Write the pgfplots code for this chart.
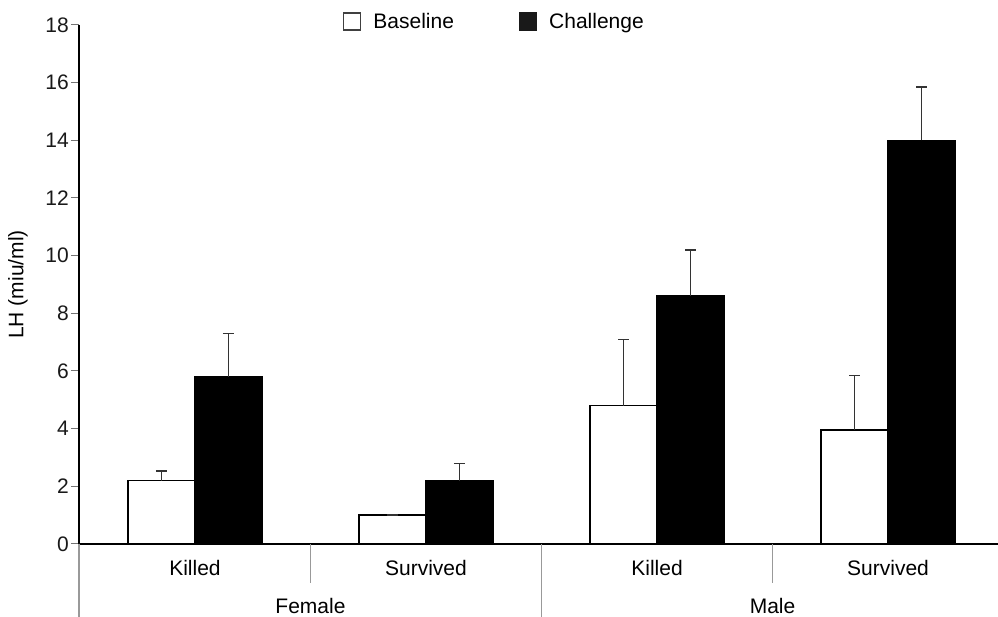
\documentclass[border=0pt]{standalone}
\usepackage{fontspec}
\setmainfont{Liberation Sans}
\usepackage{pgfplots}
\pgfplotsset{compat=1.18}
\begin{document}
\begin{tikzpicture}[x=1pt,y=1pt]
\useasboundingbox (0,0) rectangle (998,617);
\begin{axis}[
  at={(79pt,73pt)}, anchor=south west,
  scale only axis, width=919pt, height=519pt,
  xmin=-0.502, xmax=3.476, ymin=0, ymax=18,
  ytick={0,2,...,18},
  xtick=\empty,
  axis x line*=bottom, axis y line*=left,
  axis line style={line width=2pt, black, -},
  y tick style={black!55, line width=1pt},
  tick align=outside, major tick length=8pt,
  /pgf/number format/assume math mode=true,
  yticklabel style={font=\fontsize{21}{25}\selectfont, inner sep=2pt, text=black!90},
  ylabel={LH (miu/ml)},
  every axis y label/.style={at={(axis description cs:0,0.5)}, xshift=-61pt, rotate=90, anchor=center, font=\fontsize{21}{25}\selectfont},
  clip=false,
  legend columns=2,
  legend style={at={(rel axis cs:0.2873,1.0067)}, anchor=west, draw=none, fill=none, inner sep=0pt, row sep=0pt,
    nodes={inner sep=0pt, font=\fontsize{21}{25}\selectfont},
    /tikz/every odd column/.append style={column sep=12pt},
    /tikz/every even column/.append style={column sep=65pt}},
]
\addplot[ybar, bar width=67pt, bar shift=0pt, fill=white, draw=black, line width=1.5pt,
  legend image code/.code={\draw[fill=white, draw=black!75, line width=1.2pt] (0pt,-8.5pt) rectangle (17pt,8.5pt);},
  error bars/.cd, y dir=plus, y explicit,
  error bar style={line width=1.5pt, color=black!80},
  error mark options={rotate=90, mark size=5.5pt, line width=1.5pt, color=black!80}]
  coordinates {(-0.145,2.2) +- (0,0.33) (0.855,1.0) +- (0,0) (1.855,4.8) +- (0,2.3) (2.855,3.95) +- (0,1.9)};
\addlegendentry{Baseline}
\addplot[ybar, bar width=67pt, bar shift=0pt, fill=black, draw=black, line width=1.5pt,
  legend image code/.code={\draw[fill=black!90, draw=black!90, line width=1.2pt] (0pt,-8.5pt) rectangle (17pt,8.5pt);},
  error bars/.cd, y dir=plus, y explicit,
  error bar style={line width=1.5pt, color=black!80},
  error mark options={rotate=90, mark size=5.5pt, line width=1.5pt, color=black!80}]
  coordinates {(0.145,5.8) +- (0,1.5) (1.145,2.2) +- (0,0.6) (2.145,8.6) +- (0,1.6) (3.145,14.0) +- (0,1.85)};
\addlegendentry{Challenge}
\draw[black!40, line width=1.5pt] (axis cs:-0.502,0) -- ++(0pt,-73pt);
\draw[black!40, line width=1.5pt] (axis cs:1.5,0) -- ++(0pt,-73pt);
\draw[black!40, line width=1.5pt] (axis cs:0.5,0) -- ++(0pt,-39pt);
\draw[black!40, line width=1.5pt] (axis cs:2.5,0) -- ++(0pt,-39pt);
\node[font=\fontsize{21}{25}\selectfont] at ([yshift=-24pt]axis cs:0,0) {Killed};
\node[font=\fontsize{21}{25}\selectfont] at ([yshift=-24pt]axis cs:1,0) {Survived};
\node[font=\fontsize{21}{25}\selectfont] at ([yshift=-24pt]axis cs:2,0) {Killed};
\node[font=\fontsize{21}{25}\selectfont] at ([yshift=-24pt]axis cs:3,0) {Survived};
\node[font=\fontsize{21}{25}\selectfont] at ([yshift=-62pt]axis cs:0.5,0) {Female};
\node[font=\fontsize{21}{25}\selectfont] at ([yshift=-62pt]axis cs:2.5,0) {Male};
\end{axis}
\end{tikzpicture}
\end{document}
